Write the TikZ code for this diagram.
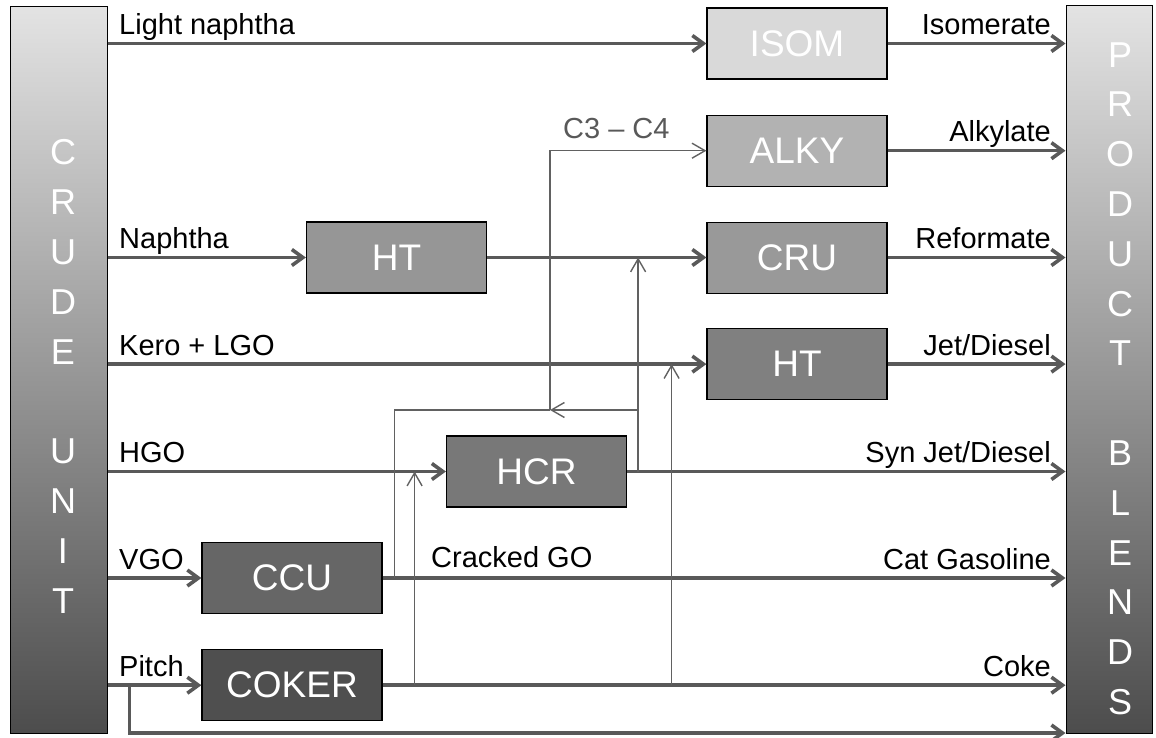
\documentclass[tikz,border=0pt]{standalone}
\usepackage{fontspec}
\setmainfont{Liberation Sans}
\usetikzlibrary{positioning,arrows.meta,calc}
\tikzset{
  blok/.style={draw=black,line width=1.2pt,minimum width=180pt,minimum height=71pt,inner sep=0pt,text=white,font=\fontsize{37}{40}\selectfont},
  pas/.style={draw=black,line width=1pt,inner sep=0pt,top color=black!11,middle color=black!24,bottom color=black!70},
  pismo/.style={text=white,align=center,inner sep=0pt,font=\fontsize{36}{49.8}\selectfont},
  tok/.style={draw=black!65,line width=3.6pt},
  sip/.style={tok,-{Straight Barb[length=11pt,width=16pt]}},
  vedl/.style={draw=black!62,line width=1.4pt},
  vsip/.style={vedl,-{Straight Barb[length=13pt,width=15pt]}},
  popis/.style={inner sep=0pt,font=\fontsize{29}{31}\selectfont},
}
\begin{document}
\begin{tikzpicture}[x=1pt,y=-1pt]
  \useasboundingbox (0,0) rectangle (1156,738);
  % sloupce
  \node[pas,minimum width=97pt,minimum height=726pt] (crude) at (58.5,370) {};
  \node[pas,minimum width=86pt,minimum height=727pt] (blend) at (1109,369.5) {};
  \node[pismo] (crudetxt) at (63,376.5) {C\\R\\U\\D\\E\\[49.8pt]U\\N\\I\\T};
  \node[pismo] (blendtxt) at (1120,378.5) {P\\R\\O\\D\\U\\C\\T\\[49.8pt]B\\L\\E\\N\\D\\S};
  % jednotky
  \node[blok,fill=black!15] (isom) at (797,43.5) {ISOM};
  \node[blok,fill=black!30] (alky) [below=35pt of isom] {ALKY};
  \node[blok,fill=black!40] (cru) [below=35pt of alky] {CRU};
  \node[blok,fill=black!50] (htb) [below=34pt of cru] {HT};
  \node[blok,fill=black!41] (hta) at (396.5,257.5) {HT};
  \node[blok,fill=black!53] (hcr) at (536.5,471.5) {HCR};
  \node[blok,fill=black!60] (ccu) at (292,578) {CCU};
  \node[blok,fill=black!69] (coker) [below=35pt of ccu] {COKER};
  % hlavni toky
  \draw[sip] (crude.east |- isom) -- (isom.west);
  \draw[sip] (isom.east) -- (blend.west |- isom);
  \draw[sip] (alky.east) -- (blend.west |- alky);
  \draw[sip] (crude.east |- hta) -- (hta.west);
  \draw[sip] (hta.east) -- (cru.west |- hta.east);
  \draw[sip] (cru.east |- hta.east) -- (blend.west |- hta.east);
  \draw[sip] (crude.east |- htb) -- (htb.west);
  \draw[sip] (htb.east) -- (blend.west |- htb);
  \draw[sip] (crude.east |- hcr) -- (hcr.west);
  \draw[sip] (hcr.east) -- (blend.west |- hcr);
  \draw[sip] (crude.east |- ccu) -- (ccu.west);
  \draw[sip] (ccu.east) -- (blend.west |- ccu);
  \draw[sip] (crude.east |- coker) -- (coker.west);
  \draw[sip] (coker.east) -- (blend.west |- coker);
  \coordinate (odb) at ($(crude.east |- coker)+(22,0)$);
  \draw[sip] (odb) |- (blend.west |- 0,733);
  % vedlejsi toky
  \coordinate (c34) at (550,410);
  \coordinate (ccuodb) at ($(ccu.east)+(12,0)$);
  \coordinate (hcrodb) at ($(hcr.east)+(11,0)$);
  \coordinate (kokodb) at ($(coker.east)+(32,0)$);
  \coordinate (kokodbb) at ($(coker.east)+(289,0)$);
  \draw[vsip] (hcrodb) -- (hcrodb |- hta);
  \draw[vsip] (hcrodb |- c34) -- (c34);
  \draw[vedl] (ccuodb) |- (c34);
  \draw[vsip] (c34) |- (alky.west);
  \draw[vsip] (kokodb) -- (kokodb |- hcr);
  \draw[vsip] (kokodbb) -- (kokodbb |- htb);
  % popisy
  \node[popis,anchor=base west] (lnap) at (119,35) {Light naphtha};
  \node[popis,anchor=base west] (nap) at (119,248.5) {Naphtha};
  \node[popis,anchor=base west] (kero) at (119,355) {Kero + LGO};
  \node[popis,anchor=base west] (hgo) at (119,462.5) {HGO};
  \node[popis,anchor=base west] (vgo) at (119,569) {VGO};
  \node[popis,anchor=base west] (pitch) at (119,676) {Pitch};
  \node[popis,anchor=base west] (cgo) at (431,567) {Cracked GO};
  \node[popis,anchor=base west,text=black!65] (c34txt) at (563,139) {C3 -- C4};
  \node[popis,anchor=base east] (isomt) at (1051,35) {Isomerate};
  \node[popis,anchor=base east] (alkyt) at (1051,141.5) {Alkylate};
  \node[popis,anchor=base east] (reft) at (1051,248.5) {Reformate};
  \node[popis,anchor=base east] (jett) at (1051,355) {Jet/Diesel};
  \node[popis,anchor=base east] (synt) at (1051,462.5) {Syn Jet/Diesel};
  \node[popis,anchor=base east] (catt) at (1051,569) {Cat Gasoline};
  \node[popis,anchor=base east] (coket) at (1051,676) {Coke};
\end{tikzpicture}
\end{document}
